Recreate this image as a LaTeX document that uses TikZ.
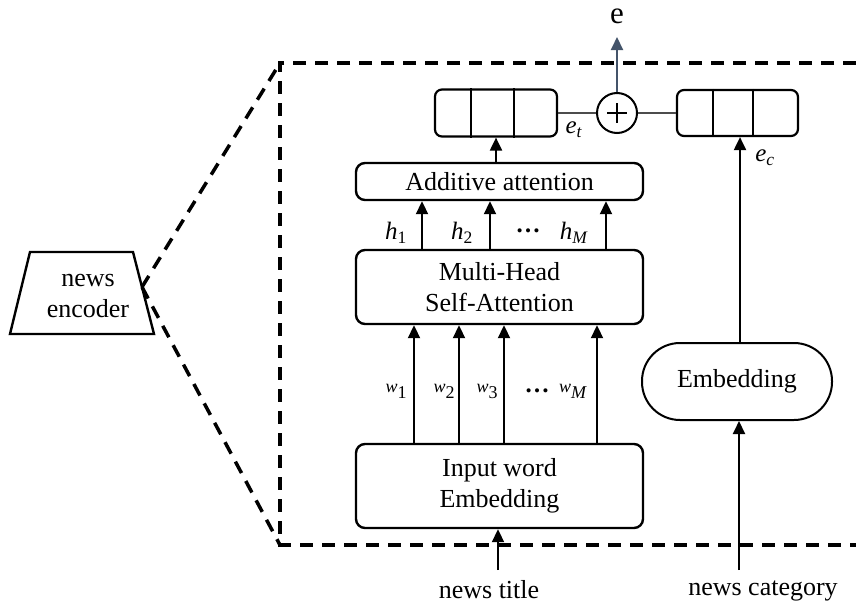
\documentclass[tikz,border=0pt]{standalone}
\usepackage{fontspec}
\setmainfont{Liberation Serif}
\usetikzlibrary{arrows.meta,calc}
\definecolor{eblue}{RGB}{68,84,106}
\newcommand\sbx[2]{#1\textsubscript{#2}}
\begin{document}
\begin{tikzpicture}[x=1pt,y=-1pt,
  box/.style={draw, line width=2.4pt, rounded corners=9pt, align=center, inner sep=0pt,
    font=\fontsize{26}{31}\selectfont},
  vec/.style={draw, line width=2.2pt, rounded corners=7pt, inner sep=0pt},
  conn/.style={line width=2pt, -{Triangle[length=13pt,width=12pt]}},
  frame/.style={line width=3.5pt, dash pattern=on 13pt off 9pt},
  txt/.style={font=\fontsize{26}{31}\selectfont, align=center, inner sep=0pt},
  lbl/.style={font=\fontsize{25}{28}\selectfont, inner sep=0pt},
  wl/.style={font=\fontsize{18}{20}\selectfont, inner sep=0pt},
  link/.style={line width=1.3pt, draw=black!70}
]
\useasboundingbox (0,0) rectangle (856,605);

% news encoder trapezoid
\draw[line width=2.4pt] (30,252) -- (133,252) -- (154,334) -- (10,334) -- cycle;
\node[txt] (enc) at (88,296) {news\\encoder};
\coordinate (tip) at (142,287);

% dashed frame
\coordinate (ftl) at (280,63);
\coordinate (fbl) at (280,545);
\coordinate (ftr) at (856,63);
\coordinate (fbr) at (856,545);
\draw[frame] (ftr) -- (ftl) -- (fbl) -- (fbr);
\draw[frame] (tip) -- (ftl);
\draw[frame] (tip) -- (fbl);

% main boxes
\node[box, minimum width=287pt, minimum height=37pt] (add) at (499.5,181.5) {Additive attention};
\node[box, minimum width=287pt, minimum height=74pt] (mh) at (499.5,287) {Multi-Head\\Self-Attention};
\node[box, minimum width=287pt, minimum height=84pt] (inp) at (499.5,486) {Input word\\Embedding};
\node[box, line width=2pt, rounded corners=38pt, minimum width=190pt, minimum height=77pt] (emb) at (737,381.5) {Embedding};

% vectors
\node[vec, minimum width=122pt, minimum height=47pt] (et) at (496,113) {};
\draw[line width=2.2pt] ($(et.north west)+(37,0)$) -- ($(et.south west)+(37,0)$);
\draw[line width=2.2pt] ($(et.north west)+(80,0)$) -- ($(et.south west)+(80,0)$);
\node[vec, minimum width=121pt, minimum height=46pt] (ec) at (737.5,113) {};
\draw[line width=2.2pt] ($(ec.north west)+(37,0)$) -- ($(ec.south west)+(37,0)$);
\draw[line width=2.2pt] ($(ec.north west)+(77,0)$) -- ($(ec.south west)+(77,0)$);

% plus circle
\node[draw, circle, line width=2pt, minimum size=40pt, inner sep=0pt] (plus) at (617,113) {};
\draw[line width=2pt] ($(plus.center)+(-10,0)$) -- ($(plus.center)+(10,0)$);
\draw[line width=2pt] ($(plus.center)+(0,-10)$) -- ($(plus.center)+(0,10)$);
\draw[link] (et.east) -- (plus.west);
\draw[link] (plus.east) -- (ec.west);

% output e
\node[txt, font=\fontsize{31}{34}\selectfont] (eout) at (617,16) {e};
\coordinate (etip) at (617,37);
\draw[line width=2pt, draw=eblue, -{Triangle[length=13pt,width=12pt]}, eblue] (plus.north) -- (etip);

% arrows into vectors
\draw[conn] (add.north -| et.south) -- (et.south);
\coordinate (ecx) at (740,0);
\draw[conn] (emb.north -| ecx) -- (ec.south -| ecx);

% h arrows
\foreach \i/\x in {1/422,2/490,3/606}{
  \coordinate (hx\i) at (\x,0);
  \draw[conn] (mh.north -| hx\i) -- (add.south -| hx\i);
}
% w arrows
\foreach \i/\x in {1/414,2/459,3/504,4/597}{
  \coordinate (wx\i) at (\x,0);
  \draw[conn] (inp.north -| wx\i) -- (mh.south -| wx\i);
}

% h labels
\node[lbl] (h1) at (396,233) {\sbx{\textit{h}}{1}};
\node[lbl] (h2) at (462,233) {\sbx{\textit{h}}{2}};
\node[lbl] (hd) at (528,231) {\textbf{\dots}};
\node[lbl] (hm) at (574,233) {\sbx{\textit{h}}{\textit{M}}};

% w labels
\node[wl] (w1) at (396,391) {\raisebox{6pt}{\textit{w}}1};
\node[wl] (w2) at (444,391) {\raisebox{6pt}{\textit{w}}2};
\node[wl] (w3) at (487,391) {\raisebox{6pt}{\textit{w}}3};
\node[lbl] (wd) at (537,391) {\textbf{\dots}};
\node[wl] (wm) at (573,391) {\raisebox{6pt}{\textit{w}}\textit{M}};

% e labels
\node[lbl] (etl) at (574,130) {\sbx{\textit{e}}{\textit{t}}};
\node[lbl] (ecl) at (765,158) {\sbx{\textit{e}}{\textit{c}}};

% inputs
\node[txt] (title) at (489,590) {news title};
\node[txt] (cat) at (763,591) {news category};
\coordinate (ttl) at (498,570);
\coordinate (ctg) at (739,570);
\draw[conn] (ttl) -- (inp.south -| ttl);
\draw[conn] (ctg) -- (emb.south -| ctg);
\end{tikzpicture}
\end{document}
